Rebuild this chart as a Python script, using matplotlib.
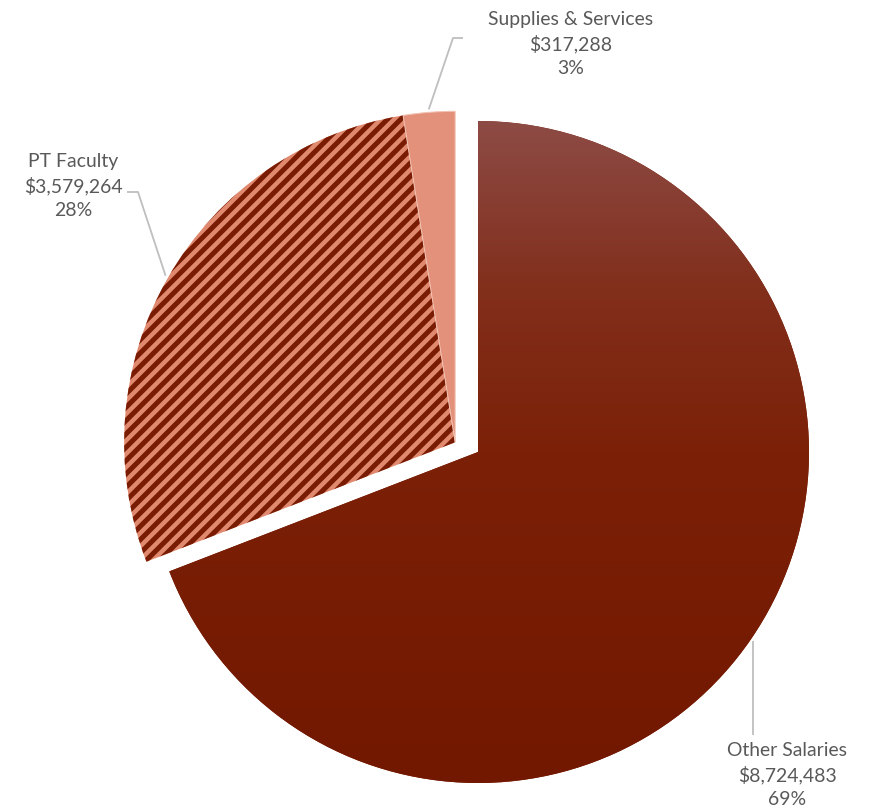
import numpy as np
import matplotlib
matplotlib.use('Agg')
import matplotlib.pyplot as plt
from matplotlib.colors import LinearSegmentedColormap

# budget split
labels = ['Other Salaries', 'PT Faculty', 'Supplies & Services']
amounts = [8724483, 3579264, 317288]
pct_labels = ['69%', '28%', '3%']

plt.rcParams['font.family'] = ['Lato', 'DejaVu Sans']
plt.rcParams['hatch.linewidth'] = 3.0

W, H, DPI = 874, 812, 120
fig = plt.figure(figsize=(W / DPI, H / DPI), dpi=DPI)
ax = fig.add_axes([0, 0, 1, 1])

cx, cy, r = 478, H - 452, 331
wedges, _ = ax.pie(amounts, startangle=90, counterclock=False, radius=r,
                   center=(cx, cy), colors=['#7A1C04', '#E0896E', '#E3917A'],
                   wedgeprops=dict(linewidth=0), frame=True)

# pull PT Faculty and Supplies out together
exp_dist, exp_ang = 0.075 * r, np.deg2rad(157)
dx, dy = exp_dist * np.cos(exp_ang), exp_dist * np.sin(exp_ang)
for w in wedges[1:]:
    w.set_center((cx + dx, cy + dy))

wedges[1].set_hatch('///')
wedges[1].set_edgecolor('#7A1C04')
wedges[1].set_linewidth(0)
wedges[2].set_edgecolor('#F2C2B2')
wedges[2].set_linewidth(0.6)

# vertical gradient for the main slice
grad_cmap = LinearSegmentedColormap.from_list(
    'sal', [(0.0, '#731800'), (0.5, '#7C2108'), (0.75, '#822F1C'), (1.0, '#8D4B45')])
grad = np.linspace(0, 1, 256).reshape(-1, 1)
im = ax.imshow(grad, cmap=grad_cmap, origin='lower', aspect='auto',
               extent=[cx - r, cx + r, cy - r, cy + r], zorder=wedges[0].get_zorder() + 0.1)
im.set_clip_path(wedges[0])

ax.set_xlim(0, W)
ax.set_ylim(0, H)
ax.axis('off')

# labels with leader lines
line_col = '#BFBFBF'
text_col = '#595959'
label_pos = [(787, H - 775), (73, H - 186), (571, H - 44)]
elbows = [
    [(0, 735)],
    [(138, 192), (127, 192)],
    [(453, 38), (463, 38)],
]
for i, w in enumerate(wedges):
    mid = np.deg2rad((w.theta1 + w.theta2) / 2)
    wx, wy = w.center
    px, py = wx + (r + 3) * np.cos(mid), wy + (r + 3) * np.sin(mid)
    xs, ys = [px], [py]
    for ex, ey in elbows[i]:
        xs.append(px if ex == 0 else ex)
        ys.append(H - ey)
    ax.plot(xs, ys, color=line_col, lw=1.1, solid_capstyle='butt', zorder=5)
    txt = f'{labels[i]}\n${amounts[i]:,}\n{pct_labels[i]}'
    ax.text(label_pos[i][0], label_pos[i][1], txt, ha='center', va='center',
            multialignment='center', fontsize=11.6, color=text_col, linespacing=1.45)

fig.savefig('out.png', dpi=DPI)
